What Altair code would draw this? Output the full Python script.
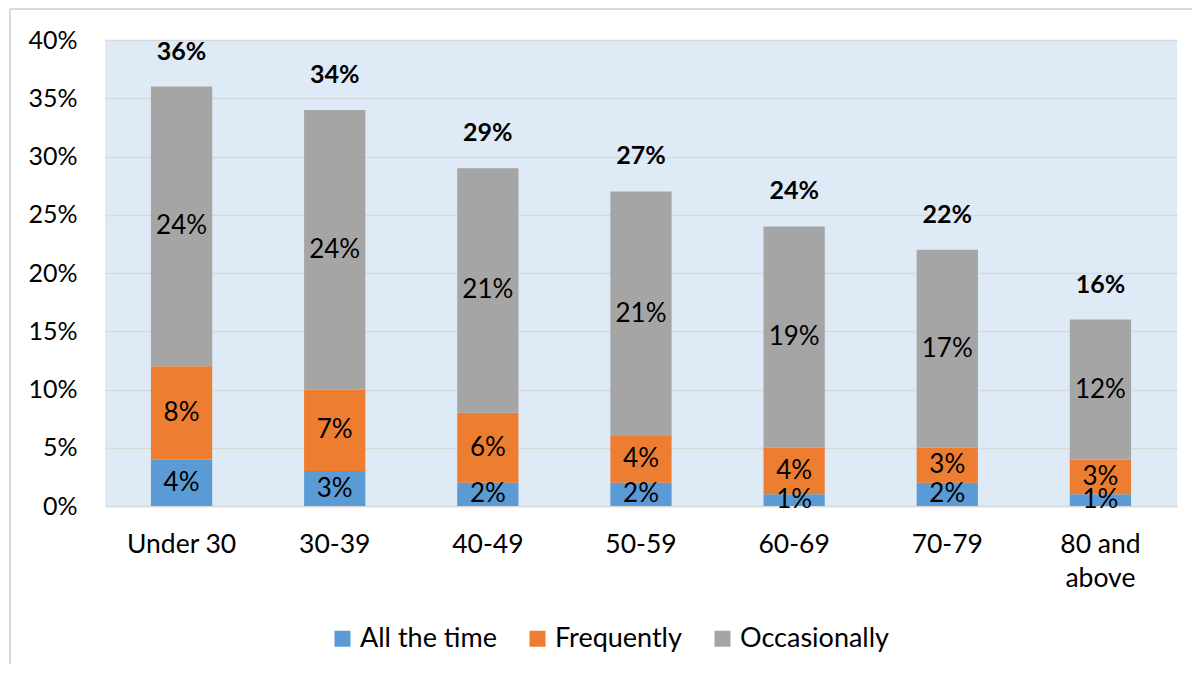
import altair as alt
import pandas as pd

categories = ["Under 30", "30-39", "40-49", "50-59", "60-69", "70-79", "80 and above"]
all_the_time = [4, 3, 2, 2, 1, 2, 1]
frequently = [8, 7, 6, 4, 4, 3, 3]
occasionally = [24, 24, 21, 21, 19, 17, 12]
series_names = ["All the time", "Frequently", "Occasionally"]
series_colors = ["#5B9BD5", "#ED7D31", "#A5A5A5"]
y_ticks = [0, 5, 10, 15, 20, 25, 30, 35, 40]

rows = []
for i, (name, vals) in enumerate(zip(series_names, [all_the_time, frequently, occasionally])):
    for c, v in zip(categories, vals):
        rows.append({"age": c, "series": name, "value": v, "order": i})
df = pd.DataFrame(rows)

FONT = "Lato"
GRID = "#D9D9D9"

x_enc = alt.X(
    "age:N",
    sort=categories,
    scale=alt.Scale(paddingInner=0, paddingOuter=0),
    axis=alt.Axis(
        title=None, labelAngle=0, labelFontSize=26.5, labelFont=FONT, labelColor="black",
        labelPadding=25, ticks=False, domain=True, domainColor=GRID, domainWidth=1.5,
        labelExpr="datum.value == '80 and above' ? ['80 and', 'above'] : datum.value",
        labelLineHeight=34, labelBaseline="top",
    ),
)
y_scale = alt.Scale(domain=[0, 40], nice=False, zero=True)

base = alt.Chart(df)

bars = base.mark_bar(width=alt.RelativeBandSize(0.4)).encode(
    x=x_enc,
    y=alt.Y(
        "value:Q", stack="zero", scale=y_scale,
        axis=alt.Axis(
            title=None, values=y_ticks, labelExpr="datum.value + '%'", labelFontSize=25,
            labelFont=FONT, labelColor="black", labelPadding=28, ticks=False, domain=False,
            grid=True, gridColor=GRID, gridWidth=1.5,
        ),
    ),
    color=alt.Color(
        "series:N",
        scale=alt.Scale(domain=series_names, range=series_colors),
        legend=alt.Legend(
            title=None, orient="none", legendX=224, legendY=585, direction="horizontal",
            symbolType="square", symbolSize=256, symbolStrokeWidth=0, labelFontSize=27,
            labelFont=FONT, labelColor="black", labelOffset=4, columnPadding=27, padding=0,
        ),
    ),
    order=alt.Order("order:Q"),
)

seg_text = base.transform_stack(
    stack="value", as_=["y0", "y1"], groupby=["age"], sort=[alt.SortField("order")]
).transform_calculate(
    mid="(datum.y0 + datum.y1) / 2", label="datum.value + '%'"
).mark_text(fontSize=26, font=FONT, color="black", baseline="middle").encode(
    x=alt.X("age:N", sort=categories),
    y=alt.Y("mid:Q", scale=y_scale),
    text="label:N",
)

tot_text = base.transform_aggregate(
    total="sum(value)", groupby=["age"]
).transform_calculate(
    label="datum.total + '%'"
).mark_text(fontSize=25, font=FONT, fontWeight="bold", color="black", baseline="bottom", dy=-22).encode(
    x=alt.X("age:N", sort=categories),
    y=alt.Y("total:Q", scale=y_scale),
    text="label:N",
)

frame_df = pd.DataFrame({"k": [0]})
frame_left = alt.Chart(frame_df).mark_rule(color=GRID, strokeWidth=2).encode(
    x=alt.value(-95), y=alt.value(-31), y2=alt.value(700)
)
frame_top = alt.Chart(frame_df).mark_rule(color=GRID, strokeWidth=2).encode(
    x=alt.value(-95), x2=alt.value(1200), y=alt.value(-31)
)

chart = alt.layer(bars, seg_text, tot_text, frame_left, frame_top).properties(
    width=1072, height=466,
    autosize=alt.AutoSizeParams(type="none"),
    padding={"left": 97, "top": 32, "right": 15, "bottom": 158},
    background="white",
).configure_view(fill="#DEEBF7", stroke=None)

chart.save("out.html", embed_options={"renderer": "svg", "actions": False})
